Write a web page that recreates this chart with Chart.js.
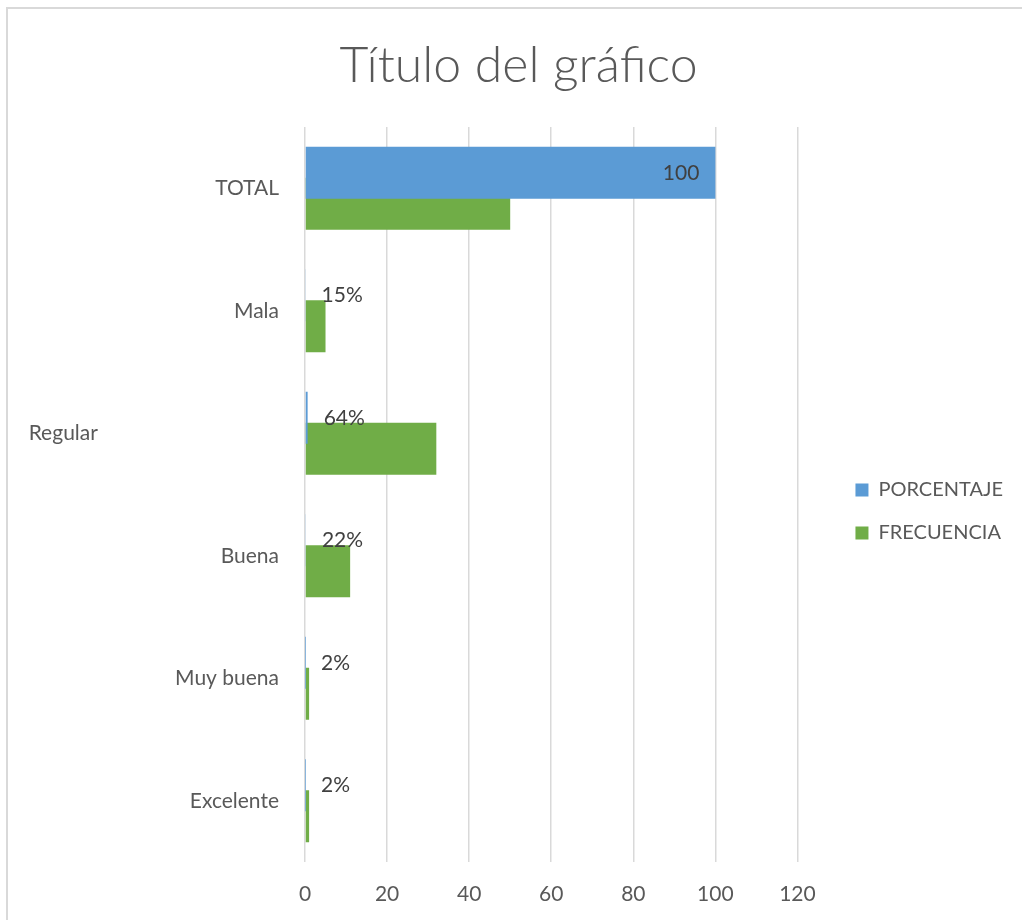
<!DOCTYPE html>
<html><head><meta charset="utf-8">
<script src="https://cdn.jsdelivr.net/npm/chart.js@4.4.1/dist/chart.umd.min.js"></script>
<style>
html,body{margin:0;padding:0;background:#fff;overflow:hidden;width:1022px;height:920px;}
#frame{position:absolute;left:6px;top:7px;width:1100px;height:1000px;border:2px solid #d9d9d9;box-sizing:border-box;}
#c{position:absolute;left:0;top:0;}
</style></head><body>
<div id="frame"></div>
<canvas id="c" width="1022" height="920"></canvas>
<script>
const categories = ['TOTAL', 'Mala', 'Regular', 'Buena', 'Muy buena', 'Excelente'];
const categoryTickLabels = ['TOTAL', 'Mala', 'Regular' + '\u2002'.repeat(17) + '\u2009', 'Buena', 'Muy buena', 'Excelente'];
const seriesNames = ['PORCENTAJE', 'FRECUENCIA'];
const porcentaje = [100, 0.15, 0.64, 0.22, 0.02, 0.02];
const frecuencia = [50, 5, 32, 11, 1, 1];
const porcentajeLabels = ['100', '15%', '64%', '22%', '2%', '2%'];
const xTicks = [0, 20, 40, 60, 80, 100, 120];

const FONT = 'Lato, "Open Sans", sans-serif';
const TXT = '#595959';

const barLabels = {
  id: 'barLabels',
  afterDatasetsDraw(chart) {
    const ctx = chart.ctx;
    const meta = chart.getDatasetMeta(0);
    ctx.save();
    ctx.font = '21px ' + FONT;
    ctx.fillStyle = '#404040';
    ctx.textBaseline = 'middle';
    meta.data.forEach((bar, i) => {
      const inside = (bar.x - bar.base) > 100;
      ctx.textAlign = inside ? 'right' : 'left';
      ctx.fillText(porcentajeLabels[i], inside ? bar.x - 16 : bar.x + 16, bar.y);
    });
    ctx.restore();
  }
};

Chart.defaults.font.family = FONT;
Chart.defaults.color = TXT;

new Chart(document.getElementById('c'), {
  type: 'bar',
  data: {
    labels: categories,
    datasets: [
      { label: seriesNames[0], data: porcentaje, backgroundColor: '#5B9BD5', borderWidth: 0,
        categoryPercentage: 0.5061, barPercentage: 1.677 },
      { label: seriesNames[1], data: frecuencia, backgroundColor: '#70AD47', borderWidth: 0,
        categoryPercentage: 0.5061, barPercentage: 1.677 }
    ]
  },
  options: {
    indexAxis: 'y',
    responsive: false,
    animation: false,
    devicePixelRatio: 1,
    layout: { padding: { left: 24, right: 9, top: 0, bottom: 0 } },
    scales: {
      x: {
        type: 'linear',
        min: xTicks[0], max: xTicks[xTicks.length - 1],
        ticks: { stepSize: xTicks[1] - xTicks[0], padding: 20, font: { size: 21 }, color: TXT },
        grid: { color: '#d9d9d9', lineWidth: 1.5, drawTicks: false },
        border: { display: false },
        afterFit: s => { s.height = 58; }
      },
      y: {
        type: 'category',
        ticks: { padding: 26, font: { size: 21 }, color: TXT, autoSkip: false,
                 callback: (v, i) => categoryTickLabels[i] },
        grid: { display: false, drawTicks: false },
        border: { display: false },
        afterFit: s => { s.width = 281; }
      },
      y2: {
        type: 'category', position: 'right', labels: categories, display: true,
        ticks: { display: false }, grid: { display: false, drawTicks: false },
        border: { display: false },
        afterFit: s => { s.width = 35; }
      }
    },
    plugins: {
      title: {
        display: true, text: 'Título del gráfico', color: TXT,
        font: { size: 50, weight: '300' },
        padding: { top: 36, bottom: 31 }
      },
      legend: {
        position: 'right', fullSize: false, align: 'center', maxWidth: 400,
        title: { display: true, text: '', font: { size: 20, lineHeight: 1.7 }, padding: 0 },
        labels: { boxWidth: 13, boxHeight: 13, padding: 23, font: { size: 20 }, color: TXT }
      },
      tooltip: { enabled: false }
    }
  },
  plugins: [barLabels]
});
</script>
</body></html>
